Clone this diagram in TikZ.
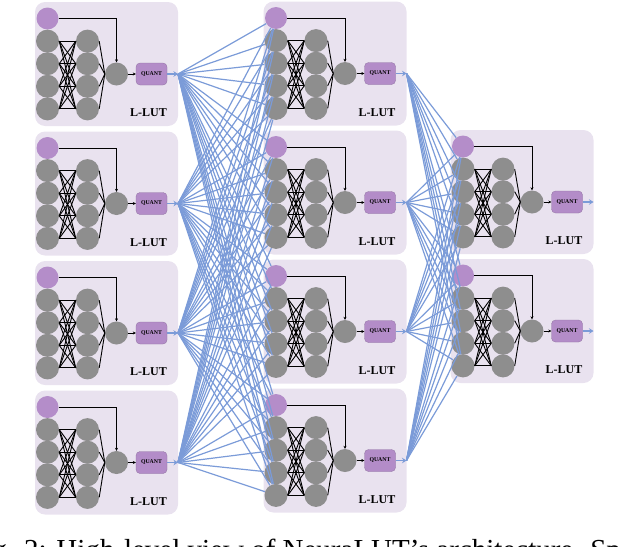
\documentclass[tikz,border=0pt]{standalone}
\usepackage{fontspec}
\setmainfont{Liberation Serif}
\usetikzlibrary{arrows.meta}
\definecolor{lutFill}{HTML}{E9E2EF}
\definecolor{inPurple}{HTML}{B48DC9}
\definecolor{hidGray}{HTML}{8E8E8E}
\definecolor{quantPurple}{HTML}{B38CC8}
\definecolor{linkBlue}{HTML}{7B9BD8}

% one L-LUT block: name, left, top
\newcommand{\lutblock}[3]{%
  \begin{scope}[shift={(#2,#3)}]
    \node[lutbox] (#1) at (71.5,62) {};
    \node[lutlabel] (#1-lbl) at (113.5,111) {L-LUT};
    \node[incirc] (#1-p) at (12.5,16.5) {};
    \foreach \k in {1,...,4} {
      \node[hidcirc] (#1-a\k) at (12.5,16.5+22.6*\k) {};
      \node[hidcirc] (#1-b\k) at (52.5,16.5+22.6*\k) {};
    }
    \node[hidcirc] (#1-o) at (81.5,72) {};
    \node[quantbox] (#1-q) at (116.5,72) {QUANT};
    \coordinate (#1-tip) at (143,72);
    \foreach \k in {1,...,4}
      \foreach \m in {1,...,4}
        \draw[wire] (#1-a\k.east) -- (#1-b\m.west);
    \foreach \k in {1,...,4}
      \draw[wire] (#1-b\k.east) -- (#1-o.west);
    \draw[wirearrow] (#1-p.east) -| (#1-o.north);
    \draw[wirearrow] (#1-o) -- (#1-q);
    \draw[outarrow] (#1-q) -- (#1-tip);
  \end{scope}
}

\begin{document}
\begin{tikzpicture}[
    x=1pt, y=-1pt,
    lutbox/.style={rectangle, rounded corners=10pt, fill=lutFill, draw=none, minimum width=143pt, minimum height=124pt},
    lutlabel/.style={font=\fontsize{12}{14}\selectfont\bfseries},
    incirc/.style={circle, fill=inPurple, draw=none, inner sep=0pt, minimum size=22pt},
    hidcirc/.style={circle, fill=hidGray, draw=none, inner sep=0pt, minimum size=23pt},
    quantbox/.style={rectangle, rounded corners=4pt, fill=quantPurple, draw=quantPurple!80!black, line width=0.3pt, minimum width=31pt, minimum height=22pt, inner sep=0pt, font=\fontsize{5.8}{7}\selectfont\bfseries},
    wire/.style={black, line width=0.9pt},
    wirearrow/.style={wire, -{Stealth[length=3pt,width=3pt]}},
    outarrow/.style={linkBlue, line width=1.3pt, -{Stealth[length=4.5pt,width=5.5pt]}},
    link/.style={linkBlue, line width=1.2pt}
  ]
  \useasboundingbox (0,0) rectangle (620,546);
  \clip (0,0) rectangle (620,546);

  \lutblock{c1-1}{35}{2}
  \lutblock{c1-2}{35}{131.5}
  \lutblock{c1-3}{35}{261}
  \lutblock{c1-4}{35}{390.5}

  \lutblock{c2-1}{263.5}{1.5}
  \lutblock{c2-2}{263.5}{130.5}
  \lutblock{c2-3}{263.5}{259.5}
  \lutblock{c2-4}{263.5}{388.5}

  \lutblock{c3-1}{450.5}{130}
  \lutblock{c3-2}{450.5}{259}

  \foreach \i in {1,...,4}
    \foreach \j in {1,...,4}
      \foreach \k in {p,a1,a2,a3,a4}
        \draw[link] (c1-\i-tip) -- (c2-\j-\k);

  \foreach \i in {1,...,4}
    \foreach \j in {1,2}
      \foreach \k in {p,a1,a2,a3,a4}
        \draw[link] (c2-\i-tip) -- (c3-\j-\k);

  \node[anchor=base west, font=\fontsize{29}{34}\selectfont] (caption) at (-35,559)
    {Fig. 2: High-level view of NeuraLUT’s architecture. Spar};
\end{tikzpicture}
\end{document}
